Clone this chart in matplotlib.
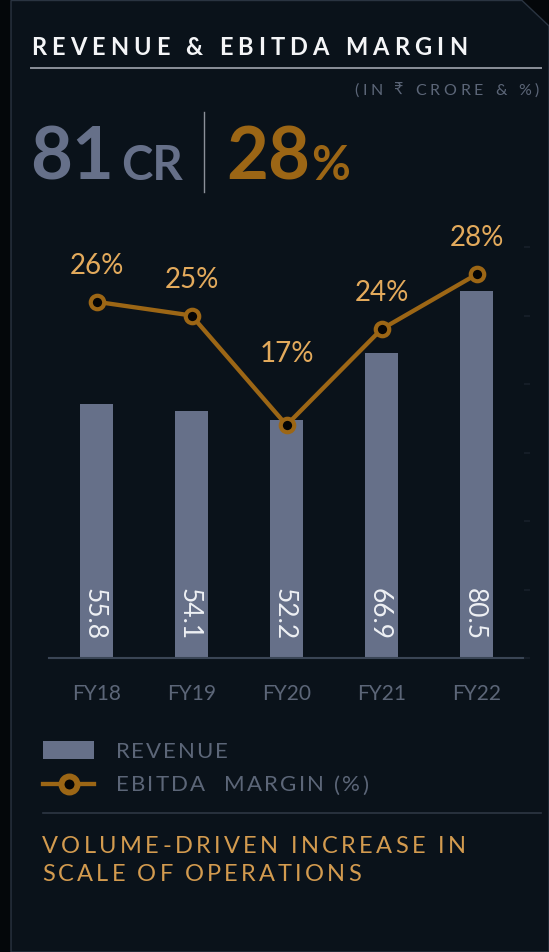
import matplotlib
matplotlib.use('Agg')
import matplotlib.pyplot as plt
from matplotlib.patches import Polygon, Rectangle
from matplotlib.lines import Line2D
from matplotlib.font_manager import FontProperties

# data
years = ['FY18', 'FY19', 'FY20', 'FY21', 'FY22']
revenue = [55.8, 54.1, 52.2, 66.9, 80.5]
margin = [26, 25, 17, 24, 28]

# colours
BG_OUT = '#04070a'
PANEL = '#0a121a'
EDGE = '#2a3441'
BAR = '#667089'
LINE = '#9c6615'
LBL_ORANGE = '#e3aa5c'
GREY_TXT = '#5c6678'
TITLE = '#f4f5f7'
RULE = '#8b9099'
BOTTOM_TXT = '#d39b4f'
FAMILY = ['Lato', 'DejaVu Sans']

plt.rcParams['font.family'] = FAMILY

W, H = 549, 953
fig = plt.figure(figsize=(W / 100, H / 100), dpi=100, facecolor=BG_OUT)


def fx(x):
    return x / W


def fy(y):
    return 1 - y / H


def spaced(x, y, s, size, span=None, color='w', weight='normal', ha='left'):
    ''' draws letter-spaced text, x/y in pixels from top-left, y = baseline '''
    prop = FontProperties(family=FAMILY, size=size, weight=weight)
    r = fig.canvas.get_renderer()

    def w(t):
        return r.get_text_width_height_descent(t, prop, ismath=False)[0]

    base = w('H')
    pos = [w(s[:i] + 'H') - base for i in range(len(s))]
    natural = w(s)
    track = 0 if span is None else (span - natural) / (len(s) - 1)
    total = natural + track * (len(s) - 1)
    x0 = x - total if ha == 'right' else x
    for i, ch in enumerate(s):
        if ch == ' ':
            continue
        fig.text(fx(x0 + pos[i] + i * track), fy(y), ch, fontproperties=prop,
                 color=color, ha='left', va='baseline')
    return total


# panel background with cut corner
panel = Polygon([(fx(11), fy(953)), (fx(11), fy(1.5)), (fx(522), fy(1.5)),
                 (fx(549), fy(27)), (fx(549), fy(953))], closed=True,
                transform=fig.transFigure, facecolor=PANEL, edgecolor=EDGE, lw=1,
                zorder=-10)
fig.patches.append(panel)

# header
spaced(30.8, 55, 'REVENUE & EBITDA MARGIN', 17, span=436, color=TITLE, weight='bold')
fig.add_artist(Line2D([fx(31), fx(541)], [fy(69), fy(69)], color=RULE, lw=1.4))
spaced(539, 95, '(IN ₹ CRORE & %)', 11.5, span=185, color=GREY_TXT, ha='right')

r = fig.canvas.get_renderer()
big = FontProperties(family=FAMILY, size=52, weight='bold')
mid = FontProperties(family=FAMILY, size=34, weight='bold')
fig.text(fx(30), fy(180), '81', fontproperties=big, color=BAR, va='baseline')
fig.text(fx(121), fy(180), 'CR', fontproperties=mid, color=BAR, va='baseline')
fig.add_artist(Line2D([fx(204), fx(204)], [fy(113), fy(193)], color=RULE, lw=1.0))
w28 = r.get_text_width_height_descent('28', big, ismath=False)[0]
fig.text(fx(226), fy(180), '28', fontproperties=big, color=LINE, va='baseline')
fig.text(fx(226 + w28 + 1), fy(180), '%', fontproperties=mid, color=LINE, va='baseline')

# chart
ax = fig.add_axes([fx(49), 1 - 659 / H, 475 / W, 429 / H])
ax.set_facecolor('none')
x = range(len(years))
ax.bar(x, revenue, width=0.354, color=BAR, zorder=2)
ax.set_xlim(-0.5, 4.5)
ax.set_ylim(0, 429 / 4.558)
for s in ['top', 'left', 'right']:
    ax.spines[s].set_visible(False)
ax.spines['bottom'].set_color('#3a4555')
ax.spines['bottom'].set_linewidth(1.5)
ax.set_yticks([])
ax.set_xticks(list(x), years)
ax.tick_params(axis='x', length=0, pad=18, labelsize=15, labelcolor=GREY_TXT)

for i, v in enumerate(revenue):
    ax.annotate(f'{v}', xy=(i, 0), xytext=(-1.5, 51), textcoords='offset points',
                rotation=-90, ha='center', va='top', fontsize=19,
                color='#eef0f4', zorder=3)

ax2 = ax.twinx()
ax2.set_facecolor('none')
ax2.set_ylim(0, 429 / 13.7)
for s in ax2.spines.values():
    s.set_visible(False)
ax2.set_yticks(range(0, 31, 5))
ax2.tick_params(axis='y', length=4, width=1.5, colors='#151d27', labelright=False)
ax2.plot(x, margin, color=LINE, lw=3.1, marker='o', ms=9.7, mfc='#050505',
         mec=LINE, mew=3.0, zorder=4)
low = margin.index(min(margin))
for i, v in enumerate(margin):
    lift = 52 if i == low else 26.6
    ax2.annotate(f'{v}%', xy=(i, v), xytext=(0, lift), textcoords='offset points',
                 ha='center', va='center', fontsize=20, color=LBL_ORANGE)

# legend
fig.patches.append(Rectangle((fx(43), fy(760)), 51 / W, 18 / H,
                             transform=fig.transFigure, facecolor=BAR, edgecolor='none'))
fig.add_artist(Line2D([fx(43), fx(94)], [fy(785), fy(785)], color=LINE, lw=3.1))
fig.add_artist(Line2D([fx(68.5)], [fy(785)], marker='o', ms=11.5, mfc='#050505',
                      mec=LINE, mew=4.3, lw=0))
spaced(115.5, 758, 'REVENUE', 16, span=112, color=GREY_TXT)
spaced(115.5, 791.5, 'EBITDA  MARGIN (%)', 16, span=253, color=GREY_TXT)

fig.add_artist(Line2D([fx(43), fx(541)], [fy(814), fy(814)], color='#2d3744', lw=1.2))

spaced(42, 853, 'VOLUME-DRIVEN INCREASE IN', 17, span=424, color=BOTTOM_TXT)
spaced(42, 881, 'SCALE OF OPERATIONS', 17, span=319, color=BOTTOM_TXT)

fig.savefig('out.png', dpi=100, facecolor=BG_OUT)
